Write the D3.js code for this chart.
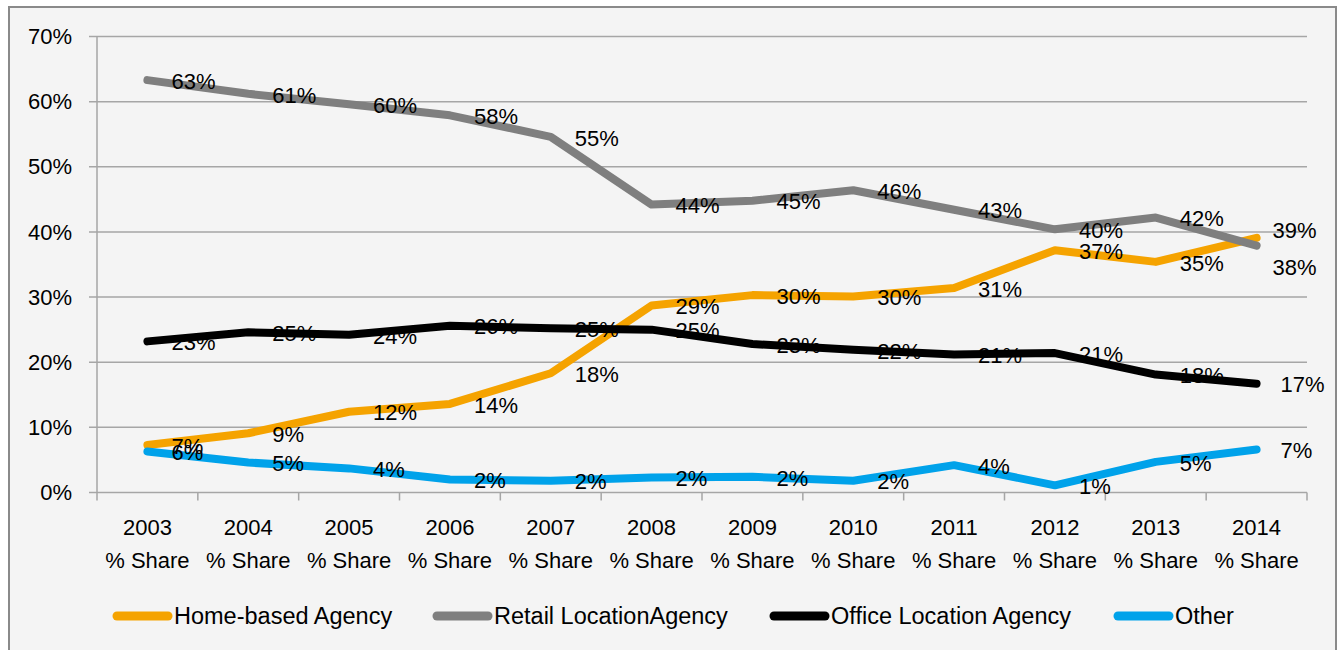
<!DOCTYPE html>
<html>
<head>
<meta charset="utf-8">
<script src="https://cdn.jsdelivr.net/npm/d3@7"></script>
<style>
  body { margin: 0; background: #fff; }
  svg { display: block; font-family: "Liberation Sans", Arial, sans-serif; }
  .grid line { stroke: #a6a6a6; stroke-width: 1.5; }
  .axis text { font-size: 22px; fill: #000; }
</style>
</head>
<body>
<svg width="1338" height="650"></svg>
<script>
// categories
var years = ["2003", "2004", "2005", "2006", "2007", "2008", "2009", "2010", "2011", "2012", "2013", "2014"];
var yTicks = [0, 10, 20, 30, 40, 50, 60, 70];

// series values, % share
var homeBased = [7.3, 9.1, 12.4, 13.6, 18.3, 28.7, 30.3, 30.1, 31.4, 37.2, 35.4, 39.1];
var retail    = [63.3, 61.2, 59.6, 57.9, 54.6, 44.2, 44.8, 46.4, 43.4, 40.4, 42.2, 37.9];
var office    = [23.2, 24.6, 24.2, 25.6, 25.2, 25.0, 22.8, 21.9, 21.2, 21.4, 18.1, 16.7];
var other     = [6.3, 4.6, 3.7, 2.0, 1.8, 2.3, 2.4, 1.8, 4.2, 1.1, 4.7, 6.6];

var seriesNames = ["Home-based Agency", "Retail LocationAgency", "Office Location Agency", "Other"];
var seriesColors = ["#f5a300", "#7f7f7f", "#000000", "#00a2ea"];

var series = [homeBased, retail, office, other].map(function(vals, i) {
  return {name: seriesNames[i], color: seriesColors[i], values: vals};
});

var svg = d3.select("svg");

// chart frame
svg.append("rect")
    .attr("x", 9).attr("y", 7)
    .attr("width", 1327).attr("height", 650)
    .attr("fill", "#f4f4f4")
    .attr("stroke", "#8a8a8a")
    .attr("stroke-width", 2);

var plotL = 97, plotR = 1307, plotT = 36.5, plotB = 492.5;

var x = d3.scaleBand().domain(years).range([plotL, plotR]);
var y = d3.scaleLinear().domain([0, 70]).range([plotB, plotT]);

// gridlines
svg.append("g").attr("class", "grid")
  .selectAll("line")
  .data(yTicks)
  .enter().append("line")
    .attr("x1", plotL - 8).attr("x2", plotR)
    .attr("y1", function(d) { return y(d); })
    .attr("y2", function(d) { return y(d); });

// y axis line
svg.append("line")
    .attr("x1", plotL).attr("x2", plotL)
    .attr("y1", plotT).attr("y2", plotB)
    .attr("stroke", "#a6a6a6").attr("stroke-width", 1.5);

// x tick marks at category boundaries
svg.append("g").attr("class", "grid")
  .selectAll("line")
  .data(d3.range(years.length + 1))
  .enter().append("line")
    .attr("x1", function(i) { return plotL + i * x.step(); })
    .attr("x2", function(i) { return plotL + i * x.step(); })
    .attr("y1", plotB).attr("y2", plotB + 8);

// y labels
svg.append("g").attr("class", "axis")
  .selectAll("text")
  .data(yTicks)
  .enter().append("text")
    .attr("x", 72)
    .attr("y", function(d) { return y(d); })
    .attr("dy", "0.35em")
    .attr("text-anchor", "end")
    .text(function(d) { return d + "%"; });

// x labels, two lines
var xl = svg.append("g").attr("class", "axis")
  .selectAll("text")
  .data(years)
  .enter().append("text")
    .attr("text-anchor", "middle")
    .attr("x", function(d) { return x(d) + x.bandwidth() / 2; });
xl.append("tspan")
    .attr("x", function(d) { return x(d) + x.bandwidth() / 2; })
    .attr("y", 535)
    .text(function(d) { return d; });
xl.append("tspan")
    .attr("x", function(d) { return x(d) + x.bandwidth() / 2; })
    .attr("y", 568)
    .text("% Share");

var line = d3.line()
    .x(function(d, i) { return x(years[i]) + x.bandwidth() / 2; })
    .y(function(d) { return y(d); });

svg.append("g").selectAll("path")
  .data(series)
  .enter().append("path")
    .attr("fill", "none")
    .attr("stroke", function(d) { return d.color; })
    .attr("stroke-width", 8)
    .attr("stroke-linejoin", "round")
    .attr("stroke-linecap", "round")
    .attr("d", function(d) { return line(d.values); });

// data labels (a couple were nudged by hand in the original)
var nudge = {"0-11": [-8, -8], "1-11": [-8, 21]};
var fmt = d3.format(".0f");

series.forEach(function(s, si) {
  svg.append("g").attr("class", "axis")
    .selectAll("text")
    .data(s.values)
    .enter().append("text")
      .attr("x", function(d, i) {
        var n = nudge[si + "-" + i] || [0, 0];
        return x(years[i]) + x.bandwidth() / 2 + 24 + n[0];
      })
      .attr("y", function(d, i) {
        var n = nudge[si + "-" + i] || [0, 0];
        return y(d) + 1 + n[1];
      })
      .attr("dy", "0.35em")
      .text(function(d) { return fmt(d) + "%"; });
});

// legend
var legendX = [113, 433, 770, 1114];
var lg = svg.append("g").selectAll("g")
  .data(series)
  .enter().append("g")
    .attr("transform", function(d, i) { return "translate(" + legendX[i] + ",616)"; });
lg.append("line")
    .attr("x1", 4).attr("x2", 55)
    .attr("stroke", function(d) { return d.color; })
    .attr("stroke-width", 9)
    .attr("stroke-linecap", "round");
lg.append("text")
    .attr("x", 61)
    .attr("dy", "0.35em")
    .style("font-size", "23.5px")
    .text(function(d) { return d.name; });
</script>
</body>
</html>
